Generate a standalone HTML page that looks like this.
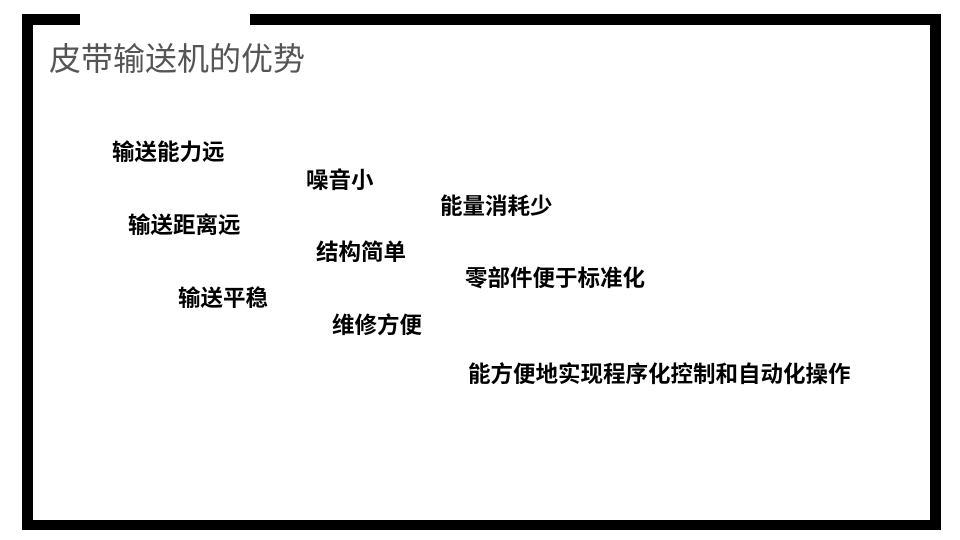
<!DOCTYPE html>
<html><head><meta charset="utf-8"><style>
html,body{margin:0;padding:0;background:#fff;}
body{width:960px;height:540px;position:relative;overflow:hidden;font-family:"Liberation Sans","Noto Sans CJK SC",sans-serif;}
.b{position:absolute;background:#000;}
.t{position:absolute;font-weight:bold;font-size:22.5px;line-height:24px;color:#000;white-space:nowrap;}
.title{position:absolute;left:49px;top:40px;font-size:32px;line-height:38px;color:#555;white-space:nowrap;}
</style></head><body>
<div class="b" style="left:22px;top:14px;width:58px;height:11px"></div>
<div class="b" style="left:250px;top:14px;width:691px;height:11px"></div>
<div class="b" style="left:22px;top:14px;width:11px;height:516px"></div>
<div class="b" style="left:930px;top:14px;width:11px;height:516px"></div>
<div class="b" style="left:22px;top:520px;width:919px;height:10px"></div>
<div class="title">皮带输送机的优势</div>
<div class="t" style="left:112px;top:141px">输送能力远</div>
<div class="t" style="left:306px;top:169px">噪音小</div>
<div class="t" style="left:440px;top:195px">能量消耗少</div>
<div class="t" style="left:128px;top:214px">输送距离远</div>
<div class="t" style="left:316px;top:241px">结构简单</div>
<div class="t" style="left:465px;top:267px">零部件便于标准化</div>
<div class="t" style="left:178px;top:287px">输送平稳</div>
<div class="t" style="left:332px;top:314px">维修方便</div>
<div class="t" style="left:468px;top:363px">能方便地实现程序化控制和自动化操作</div>
</body></html>
